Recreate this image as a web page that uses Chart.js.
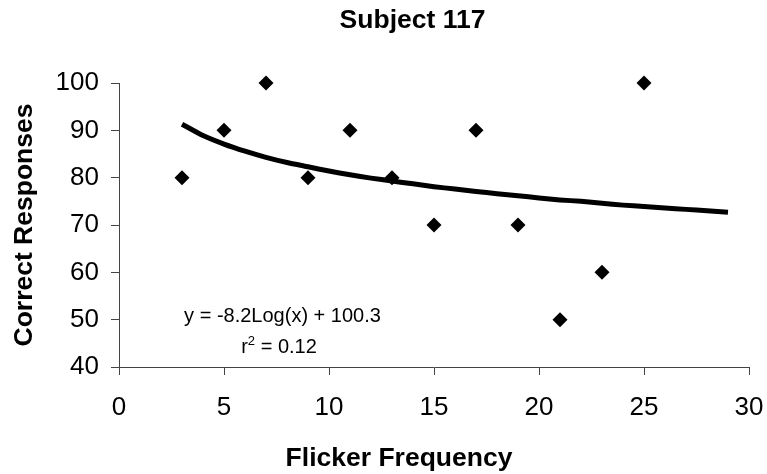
<!DOCTYPE html>
<html>
<head>
<meta charset="utf-8">
<script src="https://cdn.jsdelivr.net/npm/chart.js@4.4.1/dist/chart.umd.min.js"></script>
<style>
  html, body { margin: 0; padding: 0; background: #fff; }
  #wrap { width: 767px; height: 474px; }
</style>
</head>
<body>
<div id="wrap"><canvas id="chart"></canvas></div>
<script>
const flicker = [3, 5, 7, 9, 11, 13, 15, 17, 19, 21, 23, 25];
const correct = [80, 90, 100, 80, 90, 80, 70, 90, 70, 50, 60, 100];

// log trendline as shown on the chart, read at whole x steps
const trendX = [3, 4, 5, 6, 7, 8, 9, 10, 11, 12, 13, 14, 15, 16, 17, 18, 19, 20, 21, 22, 23, 24, 25, 26, 27, 28, 29];
const trendY = [91.3, 88.9, 87.1, 85.6, 84.3, 83.2, 82.3, 81.4, 80.6, 79.9, 79.3, 78.7, 78.1, 77.6, 77.1, 76.6, 76.2, 75.7, 75.3, 75.0, 74.6, 74.2, 73.9, 73.6, 73.3, 73.0, 72.7];

const xTicks = [0, 5, 10, 15, 20, 25, 30];
const yTicks = [40, 50, 60, 70, 80, 90, 100];

const FONT = '"Liberation Sans", Arial, sans-serif';
const AXIS = '#444444';

const points = flicker.map((x, i) => ({ x: x, y: correct[i] }));
const trend = trendX.map((x, i) => ({ x: x, y: trendY[i] }));

// titles + trendline label, placed like the Excel original
const textPlugin = {
  id: 'texts',
  afterDraw(chart) {
    const ctx = chart.ctx;
    const a = chart.chartArea;
    ctx.save();
    ctx.fillStyle = '#000';
    ctx.textAlign = 'center';
    ctx.textBaseline = 'alphabetic';

    ctx.font = 'bold 26.5px ' + FONT;
    ctx.fillText('Subject 117', 412.5, 28);
    ctx.fillText('Flicker Frequency', 399, 466);

    ctx.font = '20px ' + FONT;
    ctx.fillText('y = -8.2Log(x) + 100.3', a.left + 163.5, a.top + 239);

    // r² = 0.12 with a real superscript
    const base = a.top + 270;
    const rest = ' = 0.12';
    ctx.font = '20px ' + FONT;
    const wr = ctx.measureText('r').width;
    const wRest = ctx.measureText(rest).width;
    ctx.font = '13px ' + FONT;
    const w2 = ctx.measureText('2').width;
    let x = a.left + 160 - (wr + w2 + wRest) / 2;
    ctx.textAlign = 'left';
    ctx.font = '20px ' + FONT;
    ctx.fillText('r', x, base);
    x += wr;
    ctx.font = '13px ' + FONT;
    ctx.fillText('2', x, base - 8);
    x += w2;
    ctx.font = '20px ' + FONT;
    ctx.fillText(rest, x, base);
    ctx.restore();
  }
};

new Chart(document.getElementById('chart'), {
  type: 'scatter',
  data: {
    datasets: [
      {
        label: 'Correct Responses',
        data: points,
        pointStyle: 'rectRot',
        pointRadius: 7.5,
        pointHoverRadius: 7.5,
        backgroundColor: '#000',
        borderColor: '#000',
        borderWidth: 0,
        clip: false,
        order: 1,
      },
      {
        label: 'Log trend',
        type: 'line',
        data: trend,
        showLine: true,
        pointRadius: 0,
        borderColor: '#000',
        borderWidth: 5,
        tension: 0.2,
        fill: false,
        clip: false,
        order: 2,
      },
    ],
  },
  options: {
    responsive: true,
    maintainAspectRatio: false,
    animation: false,
    layout: { padding: { top: 83, right: 18, bottom: 0, left: 0 } },
    plugins: {
      legend: { display: false },
      tooltip: { enabled: false },
      title: { display: false },
    },
    scales: {
      x: {
        type: 'linear',
        min: 0,
        max: 30,
        afterBuildTicks: (s) => { s.ticks = xTicks.map(v => ({ value: v })); },
        afterFit: (s) => { s.height = 107; s.paddingRight = 0; s.paddingLeft = 0; },
        grid: { drawOnChartArea: false, drawTicks: true, tickLength: 8, color: AXIS },
        border: { display: true, color: AXIS, width: 1 },
        ticks: { color: '#000', font: { family: FONT, size: 26 }, padding: 17, maxRotation: 0 },
      },
      y: {
        min: 40,
        max: 100,
        afterBuildTicks: (s) => { s.ticks = yTicks.map(v => ({ value: v })); },
        afterFit: (s) => { s.width = 119; s.paddingTop = 0; s.paddingBottom = 0; },
        grid: { drawOnChartArea: false, drawTicks: true, tickLength: 8, color: AXIS },
        border: { display: true, color: AXIS, width: 1 },
        ticks: { color: '#000', font: { family: FONT, size: 26 }, padding: 12 },
        title: {
          display: true,
          text: 'Correct Responses',
          color: '#000',
          font: { family: FONT, size: 26.5, weight: 'bold', lineHeight: 1.2 },
          padding: { top: 8.6, bottom: 0 },
        },
      },
    },
  },
  plugins: [textPlugin],
});
</script>
</body>
</html>
